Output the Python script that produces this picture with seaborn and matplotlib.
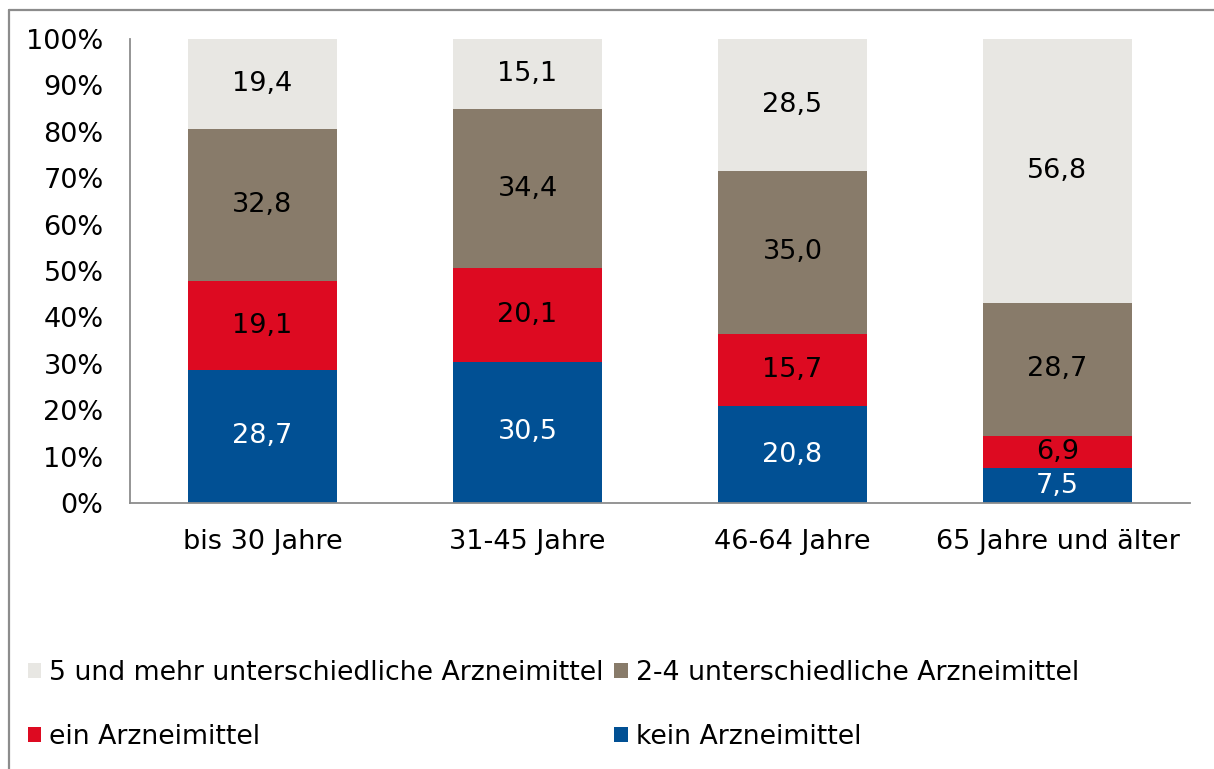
import numpy as np
import pandas as pd
import matplotlib
matplotlib.use("Agg")
import matplotlib.pyplot as plt
from matplotlib.patches import Patch
from matplotlib.lines import Line2D
import seaborn as sns

categories = ["bis 30 Jahre", "31-45 Jahre", "46-64 Jahre", "65 Jahre und älter"]
kein = [28.7, 30.5, 20.8, 7.5]
ein = [19.1, 20.1, 15.7, 6.9]
zwei_vier = [32.8, 34.4, 35.0, 28.7]
fuenf_mehr = [19.4, 15.1, 28.5, 56.8]
series_names = ["kein Arzneimittel", "ein Arzneimittel",
                "2-4 unterschiedliche Arzneimittel",
                "5 und mehr unterschiedliche Arzneimittel"]
series_values = [kein, ein, zwei_vier, fuenf_mehr]
colors = ["#015094", "#DD0A21", "#887B6A", "#E8E7E3"]
label_colors = ["white", "black", "black", "black"]
yticks = [0, 10, 20, 30, 40, 50, 60, 70, 80, 90, 100]
ytick_labels = [f"{v}%" for v in yticks]

sns.set_theme(style="white")
plt.rcParams["font.family"] = ["DejaVu Sans"]
plt.rcParams["text.color"] = "black"

FS = 19.5

fig = plt.figure(figsize=(12.14, 7.69), dpi=100)
ax = fig.add_axes([130 / 1214, 1 - 503 / 769, 1060 / 1214, 464 / 769])

vals = np.array(series_values, dtype=float)
totals = vals.sum(axis=0)
pct = vals / totals * 100
bottom = np.zeros(len(categories))
for i, name in enumerate(series_names):
    df = pd.DataFrame({"cat": categories, "val": pct[i]})
    sns.barplot(data=df, x="cat", y="val", order=categories, color=colors[i],
                bottom=bottom.copy(), width=0.566, saturation=1,
                linewidth=0, ax=ax, errorbar=None)
    for j, c in enumerate(categories):
        ax.text(j, bottom[j] + pct[i][j] / 2, f"{series_values[i][j]:.1f}".replace(".", ","),
                ha="center", va="center", fontsize=FS, color=label_colors[i])
    bottom += pct[i]

ax.set_xlim(-0.5, 3.5)
ax.set_ylim(0, 100)
ax.set_yticks(yticks)
ax.set_yticklabels(ytick_labels)
ax.set_xlabel("")
ax.set_ylabel("")
ax.tick_params(axis="y", length=0, pad=19, labelsize=FS, colors="black")
ax.tick_params(axis="x", length=0, pad=19, labelsize=FS, colors="black")
for s in ["top", "right"]:
    ax.spines[s].set_visible(False)
for s in ["left", "bottom"]:
    ax.spines[s].set_color("#8C8C8C")
    ax.spines[s].set_linewidth(1.3)
ax.grid(False)

# outer frame (partially cropped)
fig.add_artist(Line2D([9 / 1214, 1.0], [1 - 10 / 769] * 2, color="#8C8C8C", lw=1.6,
                      transform=fig.transFigure))
fig.add_artist(Line2D([9 / 1214] * 2, [0, 1 - 10 / 769], color="#8C8C8C", lw=1.6,
                      transform=fig.transFigure))

order = [3, 1, 2, 0]
handles = [Patch(facecolor=colors[k], edgecolor="none") for k in order]
labels = [series_names[k] for k in order]
leg = fig.legend(handles, labels, ncol=2, loc="upper left",
                 bbox_to_anchor=(17 / 1214, 1 - 649 / 769), frameon=False,
                 fontsize=19.3, handlelength=0.5, handleheight=0.5, handletextpad=0.3,
                 labelspacing=1.42, columnspacing=0.4, borderaxespad=0)
for t in leg.get_texts():
    t.set_color("black")

fig.savefig("out.png", dpi=100)
